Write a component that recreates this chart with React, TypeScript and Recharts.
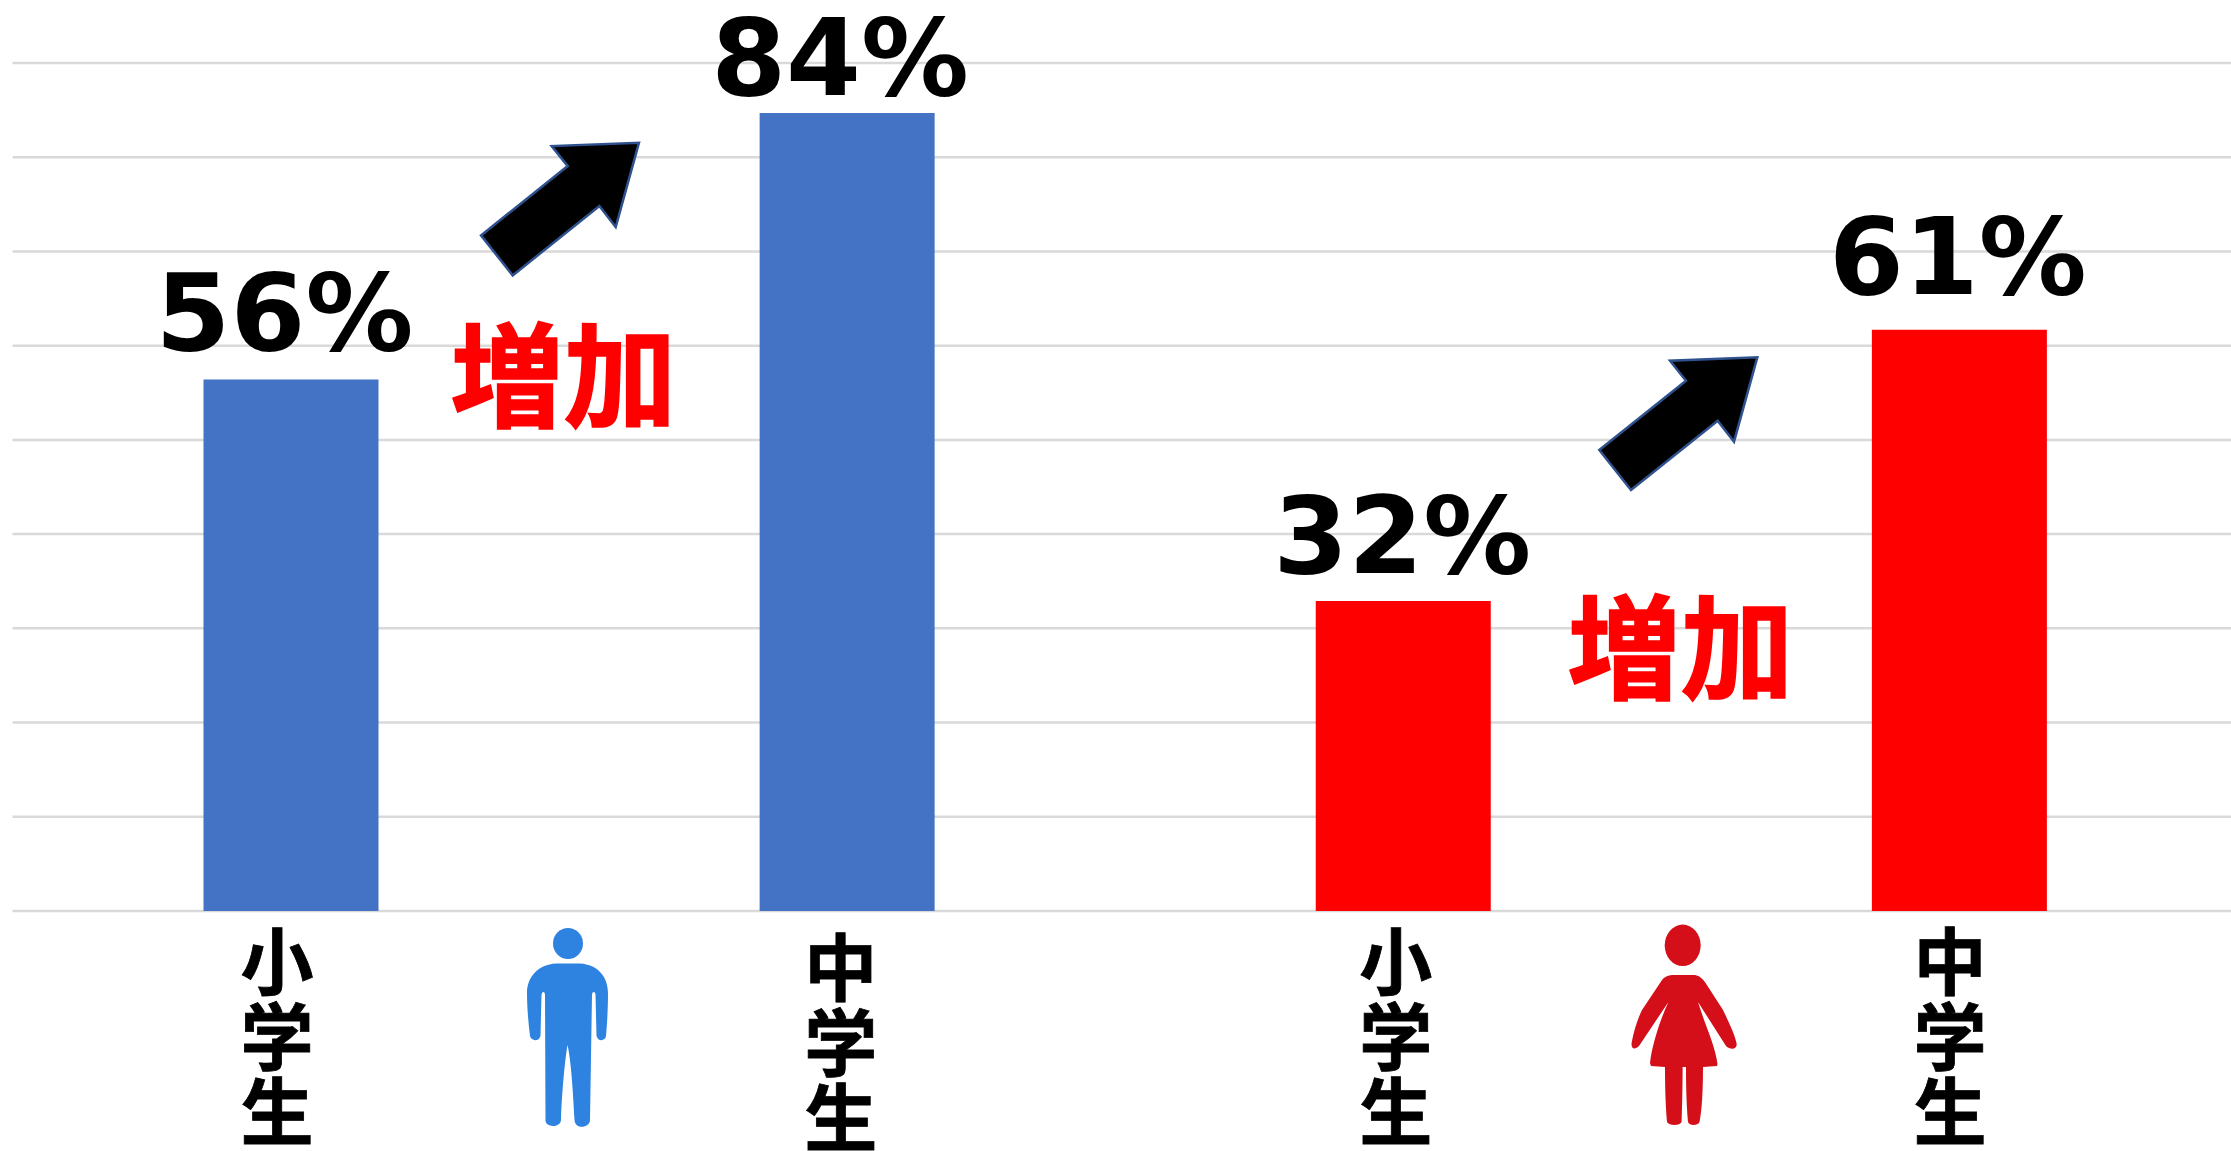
import { Bar, BarChart, CartesianGrid, Cell, LabelList, XAxis, YAxis } from "recharts";

const categories = ["小学生", "中学生", "小学生", "中学生"];
const barValues = [56.4, 84.7, 32.9, 61.7];
const valueLabels = ["56%", "84%", "32%", "61%"];
const barColors = ["#4472c4", "#4472c4", "#ff0000", "#ff0000"];
const gridTicks = [0, 10, 20, 30, 40, 50, 60, 70, 80, 90];

const chartData = categories.map((name, i) => ({ name, value: barValues[i] }));

// hand-placed text offsets, the source image was pasted together from slides
const tickShift = [
  { dx: -13.5, dy: 0 },
  { dx: -6, dy: 6 },
  { dx: -7, dy: 0 },
  { dx: -9, dy: 0 },
];
const labelShift = [
  { dx: -6.5, gap: 30 },
  { dx: -7, gap: 18 },
  { dx: -1, gap: 28 },
  { dx: -1.5, gap: 36 },
];

const cjkFont = '"Noto Sans CJK JP", "Noto Sans", sans-serif';
const arrowPath = "M1757.3 357.3 L1734 441.7 L1717.7 420.7 L1631 490 L1599.3 450 L1686 380.7 L1670 360.7 Z";

function StackedTick({ x, index, payload }: any) {
  const shift = tickShift[index] ?? { dx: 0, dy: 0 };
  return (
    <g fontFamily={cjkFont} fontWeight={700} fontSize={73} fill="#000" stroke="#000" strokeWidth={0.8} textAnchor="middle">
      {String(payload.value)
        .split("")
        .map((ch, i) => (
          <text key={i} x={x + shift.dx} y={989 + shift.dy + i * 75}>
            {ch}
          </text>
        ))}
    </g>
  );
}

function PercentLabel({ x, y, width, index }: any) {
  const shift = labelShift[index];
  return (
    <text
      x={x + width / 2 + shift.dx}
      y={y - shift.gap}
      textAnchor="middle"
      fontFamily='"DejaVu Sans", sans-serif'
      fontWeight={700}
      fontSize={107}
      textLength={258}
      lengthAdjust="spacingAndGlyphs"
      fill="#000"
    >
      {valueLabels[index]}
    </text>
  );
}

function Annotations() {
  return (
    <svg width={2231} height={1151} style={{ position: "absolute", left: 0, top: 0 }}>
      <path d={arrowPath} fill="#000" stroke="#2f528f" strokeWidth={2.5} transform="translate(-1118.3 -214.6)" />
      <path d={arrowPath} fill="#000" stroke="#2f528f" strokeWidth={2.5} />
      <g fontFamily={cjkFont} fontWeight={700} fontSize={113} fill="#ff0000" stroke="#ff0000" strokeWidth={1.5} textAnchor="middle">
        <text x={563.5} y={418} textLength={226} lengthAdjust="spacingAndGlyphs">増加</text>
        <text x={1680.5} y={690} textLength={226} lengthAdjust="spacingAndGlyphs">増加</text>
      </g>
      {/* boy */}
      <ellipse cx={568} cy={943.5} rx={15} ry={15.5} fill="#2e83e0" />
      <path
        fill="#2e83e0"
        d="M556 963.5 L580 963.5 C598 964.5 608 977 608 993 C608 1010 607 1025 606 1036 C605.5 1041 598 1042 596.5 1036 L595.5 995 C595.5 991 592 991 592 995 L590 1120 C590 1128 575 1130 574.5 1120 C573 1090 571 1060 567.5 1045 C565 1060 562 1090 561 1120 C560.5 1128 545 1128 545.5 1120 L545 995 C545 991 542 991 541.5 995 L540.5 1036 C539 1042 531 1041 530 1036 C528 1020 527 1005 527 993 C527 977 538 964.5 556 963.5 Z"
      />
      {/* girl */}
      <ellipse cx={1682.7} cy={945.3} rx={18} ry={20.7} fill="#d40f1a" />
      <path
        fill="#d40f1a"
        d="M1672 975 L1695 975 C1700 976 1703 979 1705.6 983 L1723 1010 C1730 1025 1735 1035 1736.7 1044 C1737 1050 1730 1050 1726 1046 L1698 1002 C1705 1025 1715 1045 1717.5 1064 L1717 1066 L1703 1067 C1703 1090 1702 1110 1699.5 1122 C1698 1126 1689 1126 1688 1122 C1686.5 1105 1686 1085 1686 1067 L1682.6 1067 C1682.6 1090 1682 1110 1681.6 1122 C1680 1126 1669 1126 1667 1122 C1665.5 1105 1665 1085 1665 1067 L1651 1066 L1650 1063 C1652 1045 1660 1020 1668.4 1002 L1639 1046 C1635 1050 1631 1049 1631.6 1043 C1634 1030 1638 1018 1642 1010 L1662 980 C1664 977 1668 975.5 1672 975 Z"
      />
    </svg>
  );
}

export default function App() {
  return (
    <div style={{ position: "fixed", left: 0, top: 0, width: 2231, height: 1151, overflow: "hidden", background: "#fff" }}>
      <BarChart
        width={2237}
        height={1151}
        data={chartData}
        margin={{ top: 63, right: 0, bottom: 0, left: 12.5 }}
        barSize={175}
      >
        <CartesianGrid vertical={false} stroke="#d9d9d9" strokeWidth={2.5} />
        <XAxis
          dataKey="name"
          height={240}
          axisLine={false}
          tickLine={false}
          interval={0}
          tick={<StackedTick />}
        />
        <YAxis hide domain={[0, 90]} ticks={gridTicks} />
        <Bar dataKey="value" isAnimationActive={false}>
          {chartData.map((_, i) => (
            <Cell key={i} fill={barColors[i]} />
          ))}
          <LabelList dataKey="value" content={<PercentLabel />} />
        </Bar>
      </BarChart>
      <Annotations />
    </div>
  );
}
